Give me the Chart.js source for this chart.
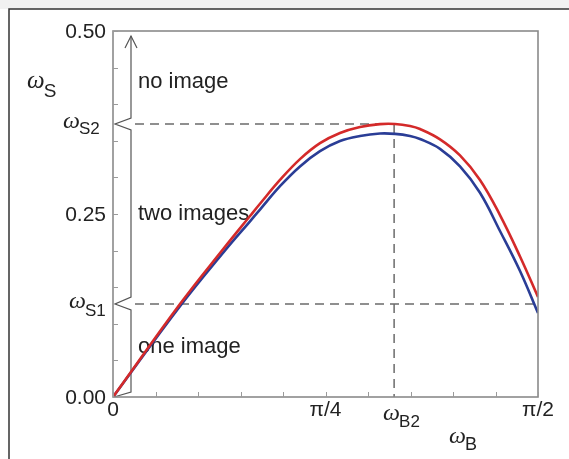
<!DOCTYPE html>
<html>
<head>
<meta charset="utf-8">
<script src="https://cdn.jsdelivr.net/npm/chart.js@4.4.1/dist/chart.umd.min.js"></script>
<style>
  html, body { margin: 0; padding: 0; background: #fff; }
  #wrap { width: 569px; height: 459px; position: relative; }
</style>
</head>
<body>
<div id="wrap"><canvas id="chart" width="569" height="459"></canvas></div>
<script>
// omega_B samples (x) and the two omega_S curves
const omegaB = [0, 0.2476, 0.4103, 0.5064, 0.5433, 0.6172, 0.6911, 0.7651, 0.839, 0.9129, 0.9868, 1.0423, 1.0977, 1.1347, 1.2086, 1.2825, 1.3564, 1.4303, 1.5043, Math.PI / 2];
const redS   = [0, 0.1270, 0.2035, 0.2473, 0.2640, 0.2965, 0.3250, 0.3468, 0.3607, 0.3689, 0.3728, 0.3730, 0.3702, 0.3661, 0.3520, 0.3300, 0.2965, 0.2485, 0.1920, 0.1366];
const blueS  = [0, 0.1240, 0.1985, 0.2400, 0.2560, 0.2880, 0.3150, 0.3358, 0.3497, 0.3566, 0.3600, 0.3595, 0.3566, 0.3525, 0.3390, 0.3150, 0.2790, 0.2268, 0.1721, 0.1148];

// axis ticks and labels
const yMinorTicks = [0, 0.05, 0.10, 0.15, 0.20, 0.25, 0.30, 0.35, 0.40, 0.45, 0.50];
const yTickValues = [0, 0.25, 0.5];
const yTickLabels = ['0.00', '0.25', '0.50'];
const xMinorTicks = [0, 1, 2, 3, 4, 5, 6, 7, 8, 9, 10].map(i => i * Math.PI / 20);
const xTickValues = [0, Math.PI / 4, Math.PI / 2];
const xTickLabels = ['0', 'π/4', 'π/2'];

// marked levels
const omegaS1 = 0.127;
const omegaS2 = 0.373;
const omegaB2 = 1.039;

const regionLabels = ['no image', 'two images', 'one image'];
const regionLevels = [0.43, 0.25, 0.069];

const toPoints = ys => omegaB.map((x, i) => ({ x: x, y: ys[i] }));

function drawOmega(ctx, x, y, sub, size, subSize, subDy) {
    ctx.save();
    ctx.fillStyle = '#222';
    ctx.textBaseline = 'alphabetic';
    ctx.textAlign = 'left';
    ctx.font = 'italic ' + size + 'px "Liberation Serif", serif';
    ctx.fillText('ω', x, y);
    const w = ctx.measureText('ω').width;
    ctx.font = subSize + 'px "Liberation Sans", Arial, sans-serif';
    ctx.fillText(sub, x + w - 1, y + subDy);
    ctx.restore();
}

const decor = {
    id: 'decor',
    beforeDatasetsDraw(chart) {
        const ctx = chart.ctx;
        const xs = chart.scales.x, ys = chart.scales.y;
        const a = chart.chartArea;
        // outer frame
        ctx.save();
        ctx.fillStyle = '#f1f1f1';
        ctx.fillRect(0, 0, 569, 9);
        ctx.strokeStyle = '#333';
        ctx.lineWidth = 1.5;
        ctx.beginPath();
        ctx.moveTo(9, 459);
        ctx.lineTo(9, 9);
        ctx.lineTo(569, 9);
        ctx.stroke();

        // dashed guides
        const yS1 = ys.getPixelForValue(omegaS1);
        const yS2 = ys.getPixelForValue(omegaS2);
        const xB2 = xs.getPixelForValue(omegaB2);
        ctx.strokeStyle = '#6b6b6b';
        ctx.lineWidth = 1.5;
        ctx.setLineDash([9, 6]);
        ctx.beginPath();
        ctx.moveTo(a.left + 22, yS2);
        ctx.lineTo(xB2, yS2);
        ctx.moveTo(a.left + 22, yS1);
        ctx.lineTo(a.right, yS1);
        ctx.moveTo(xB2, yS2);
        ctx.lineTo(xB2, a.bottom);
        ctx.stroke();
        ctx.setLineDash([]);

        // brace with arrow
        const bx = a.left + 18;
        const tip = a.left + 2;
        ctx.strokeStyle = '#555';
        ctx.lineWidth = 1.2;
        ctx.beginPath();
        ctx.moveTo(bx, a.top + 5);
        ctx.lineTo(bx, yS2 - 6);
        ctx.lineTo(tip, yS2);
        ctx.lineTo(bx, yS2 + 6);
        ctx.lineTo(bx, yS1 - 7);
        ctx.lineTo(tip, yS1);
        ctx.lineTo(bx, yS1 + 6);
        ctx.lineTo(bx, a.bottom - 5);
        ctx.lineTo(a.left + 1, a.bottom);
        ctx.stroke();
        ctx.beginPath();
        ctx.moveTo(bx - 6, a.top + 17);
        ctx.lineTo(bx, a.top + 5);
        ctx.lineTo(bx + 6, a.top + 17);
        ctx.stroke();

        // region labels
        ctx.fillStyle = '#222';
        ctx.font = '22px "Liberation Sans", Arial, sans-serif';
        ctx.textBaseline = 'middle';
        ctx.textAlign = 'left';
        regionLabels.forEach((t, i) => {
            ctx.fillText(t, a.left + 25, ys.getPixelForValue(regionLevels[i]));
        });
        ctx.restore();
    },
    afterDatasetsDraw(chart) {
        const ctx = chart.ctx;
        const xs = chart.scales.x, ys = chart.scales.y;
        const a = chart.chartArea;
        ctx.save();
        // plot frame
        ctx.strokeStyle = '#8a8a8a';
        ctx.lineWidth = 1.6;
        ctx.strokeRect(a.left, a.top, a.right - a.left, a.bottom - a.top);
        // minor ticks (inside)
        ctx.strokeStyle = '#9a9a9a';
        ctx.lineWidth = 1;
        ctx.beginPath();
        yMinorTicks.forEach(v => {
            const y = Math.round(ys.getPixelForValue(v)) + 0.5;
            ctx.moveTo(a.left, y);
            ctx.lineTo(a.left + 5, y);
        });
        xMinorTicks.forEach(v => {
            const x = Math.round(xs.getPixelForValue(v)) + 0.5;
            ctx.moveTo(x, a.bottom);
            ctx.lineTo(x, a.bottom - 5);
        });
        ctx.stroke();

        // tick labels
        ctx.fillStyle = '#222';
        ctx.font = '21px "Liberation Sans", Arial, sans-serif';
        ctx.textAlign = 'right';
        ctx.textBaseline = 'middle';
        yTickValues.forEach((v, i) => {
            ctx.fillText(yTickLabels[i], a.left - 7, ys.getPixelForValue(v) + 1);
        });
        ctx.textAlign = 'center';
        ctx.textBaseline = 'top';
        xTickValues.forEach((v, i) => {
            ctx.fillText(xTickLabels[i], xs.getPixelForValue(v), a.bottom + 3);
        });
        ctx.restore();

        // omega labels
        const yS1 = ys.getPixelForValue(omegaS1);
        const yS2 = ys.getPixelForValue(omegaS2);
        const xB2 = xs.getPixelForValue(omegaB2);
        drawOmega(ctx, 63, yS2 + 4, 'S2', 24, 17, 6);
        drawOmega(ctx, 69, yS1 + 4, 'S1', 24, 17, 8);
        drawOmega(ctx, xB2 - 11, a.bottom + 23, 'B2', 24, 17, 7);
        drawOmega(ctx, 27, 88, 'S', 25, 19, 9);
        drawOmega(ctx, 449, 443, 'B', 24, 18, 7);
    }
};

new Chart(document.getElementById('chart'), {
    type: 'scatter',
    data: {
        datasets: [
            {
                label: 'red',
                data: toPoints(redS),
                showLine: true,
                borderColor: '#d42a2a',
                borderWidth: 2.6,
                pointRadius: 0,
                tension: 0.4
            },
            {
                label: 'blue',
                data: toPoints(blueS),
                showLine: true,
                borderColor: '#2a3d96',
                borderWidth: 2.6,
                pointRadius: 0,
                tension: 0.4
            }
        ]
    },
    options: {
        responsive: false,
        animation: false,
        layout: { padding: { left: 113, top: 31, right: 31, bottom: 62 } },
        plugins: { legend: { display: false }, tooltip: { enabled: false } },
        scales: {
            x: { type: 'linear', min: 0, max: Math.PI / 2, display: false },
            y: { min: 0, max: 0.5, display: false }
        }
    },
    plugins: [decor]
});
</script>
</body>
</html>
